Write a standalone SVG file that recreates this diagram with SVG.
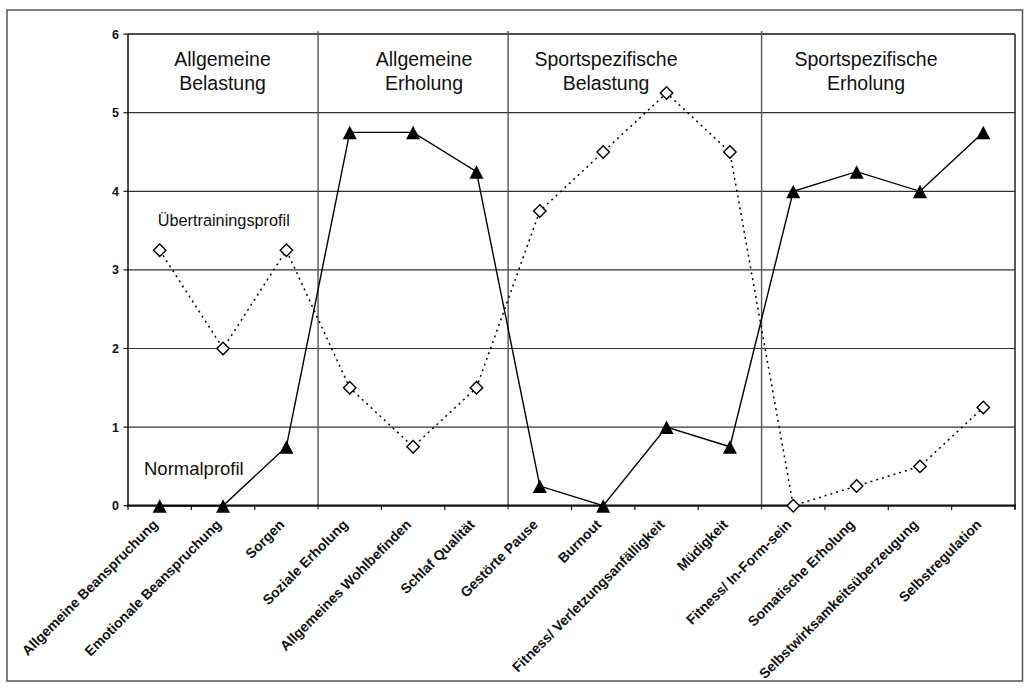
<svg xmlns="http://www.w3.org/2000/svg" width="1031" height="688" viewBox="0 0 1031 688">
<style>
.hdr{font-family:"Liberation Sans",Arial,sans-serif;font-size:19.5px;fill:#111;text-anchor:middle}
.ylab{font-family:"Liberation Sans",Arial,sans-serif;font-size:12.5px;font-weight:bold;fill:#111;text-anchor:end}
.xlab{font-family:"Liberation Sans",Arial,sans-serif;font-size:14px;font-weight:bold;fill:#111;text-anchor:end}
.note{font-family:"Liberation Sans",Arial,sans-serif;fill:#111}
.grid{stroke:#333;stroke-width:1.2}
.div{stroke:#555;stroke-width:1.4}
</style>
<defs>
<marker id="tri" viewBox="-8 -8 16 16" refX="0" refY="0" markerWidth="16" markerHeight="16" markerUnits="userSpaceOnUse" orient="0">
<path d="M0,-6.5 L7,7 L-7,7 Z" fill="#000" stroke="none"/>
</marker>
<marker id="dia" viewBox="-8 -8 16 16" refX="0" refY="0" markerWidth="16" markerHeight="16" markerUnits="userSpaceOnUse" orient="0">
<path d="M0,-6.2 L6.2,0 L0,6.2 L-6.2,0 Z" fill="#fff" stroke="#000" stroke-width="1.4" stroke-dasharray="none"/>
</marker>
</defs>
<rect x="0" y="0" width="1031" height="688" fill="#fff"/>
<rect x="7" y="10" width="1015.5" height="671" fill="none" stroke="#555" stroke-width="1.5"/>

<g id="grid">
<line class="grid" x1="128" y1="112.7" x2="1015" y2="112.7"/>
<line class="grid" x1="128" y1="191.3" x2="1015" y2="191.3"/>
<line class="grid" x1="128" y1="269.9" x2="1015" y2="269.9"/>
<line class="grid" x1="128" y1="348.5" x2="1015" y2="348.5"/>
<line class="grid" x1="128" y1="427.1" x2="1015" y2="427.1"/>
<line x1="128" y1="34.1" x2="1015" y2="34.1" stroke="#111" stroke-width="1.5"/>
<line x1="1015" y1="34.1" x2="1015" y2="509.5" stroke="#222" stroke-width="1.5"/>
<line class="div" x1="318.07" y1="31" x2="318.07" y2="509.5"/>
<line class="div" x1="508.14" y1="31" x2="508.14" y2="509.5"/>
<line class="div" x1="761.57" y1="31" x2="761.57" y2="509.5"/>
</g>

<g id="axes">
<line x1="128" y1="34.1" x2="128" y2="505.7" stroke="#111" stroke-width="1.5"/>
<line x1="127" y1="505.7" x2="1016" y2="505.7" stroke="#111" stroke-width="2.2"/>
<g stroke="#111" stroke-width="1.2">
<line x1="123.5" y1="34.1" x2="128" y2="34.1"/>
<line x1="123.5" y1="112.7" x2="128" y2="112.7"/>
<line x1="123.5" y1="191.3" x2="128" y2="191.3"/>
<line x1="123.5" y1="269.9" x2="128" y2="269.9"/>
<line x1="123.5" y1="348.5" x2="128" y2="348.5"/>
<line x1="123.5" y1="427.1" x2="128" y2="427.1"/>
<line x1="123.5" y1="505.7" x2="128" y2="505.7"/>
<line x1="128" y1="505.7" x2="128" y2="510"/>
<line x1="191.36" y1="505.7" x2="191.36" y2="510"/>
<line x1="254.71" y1="505.7" x2="254.71" y2="510"/>
<line x1="381.43" y1="505.7" x2="381.43" y2="510"/>
<line x1="444.79" y1="505.7" x2="444.79" y2="510"/>
<line x1="571.5" y1="505.7" x2="571.5" y2="510"/>
<line x1="634.86" y1="505.7" x2="634.86" y2="510"/>
<line x1="698.21" y1="505.7" x2="698.21" y2="510"/>
<line x1="824.93" y1="505.7" x2="824.93" y2="510"/>
<line x1="888.29" y1="505.7" x2="888.29" y2="510"/>
<line x1="951.64" y1="505.7" x2="951.64" y2="510"/>
<line x1="1015" y1="505.7" x2="1015" y2="510"/>
</g>
<text class="ylab" x="119" y="38.6">6</text>
<text class="ylab" x="119" y="117.2">5</text>
<text class="ylab" x="119" y="195.8">4</text>
<text class="ylab" x="119" y="274.4">3</text>
<text class="ylab" x="119" y="353">2</text>
<text class="ylab" x="119" y="431.6">1</text>
<text class="ylab" x="119" y="510.2">0</text>
</g>

<g id="x-labels">
<text class="xlab" transform="translate(158.7,525.5) rotate(-45)">Allgemeine Beanspruchung</text>
<text class="xlab" transform="translate(222,525.5) rotate(-45)">Emotionale Beanspruchung</text>
<text class="xlab" transform="translate(285.4,525.5) rotate(-45)">Sorgen</text>
<text class="xlab" transform="translate(348.7,525.5) rotate(-45)">Soziale Erholung</text>
<text class="xlab" transform="translate(412.1,525.5) rotate(-45)">Allgemeines Wohlbefinden</text>
<text class="xlab" transform="translate(475.5,525.5) rotate(-45)">Schlaf Qualität</text>
<text class="xlab" transform="translate(538.8,525.5) rotate(-45)">Gestörte Pause</text>
<text class="xlab" transform="translate(602.2,525.5) rotate(-45)">Burnout</text>
<text class="xlab" transform="translate(665.5,525.5) rotate(-45)">Fitness/ Verletzungsanfälligkeit</text>
<text class="xlab" transform="translate(728.9,525.5) rotate(-45)">Müdigkeit</text>
<text class="xlab" transform="translate(792.2,525.5) rotate(-45)">Fitness/ In-Form-sein</text>
<text class="xlab" transform="translate(855.6,525.5) rotate(-45)">Somatische Erholung</text>
<text class="xlab" transform="translate(919,525.5) rotate(-45)">Selbstwirksamkeitsüberzeugung</text>
<text class="xlab" transform="translate(982.3,525.5) rotate(-45)">Selbstregulation</text>
</g>

<g id="headers">
<text class="hdr" x="222.5" y="66">Allgemeine</text>
<text class="hdr" x="222.5" y="89.5">Belastung</text>
<text class="hdr" x="424" y="66">Allgemeine</text>
<text class="hdr" x="424" y="89.5">Erholung</text>
<text class="hdr" x="606" y="66">Sportspezifische</text>
<text class="hdr" x="606" y="89.5">Belastung</text>
<text class="hdr" x="866" y="66">Sportspezifische</text>
<text class="hdr" x="866" y="89.5">Erholung</text>
</g>

<g id="connectors">
<polyline id="uebertraining-line" fill="none" stroke="#000" stroke-width="1.5" stroke-dasharray="2,4" marker-start="url(#dia)" marker-mid="url(#dia)" marker-end="url(#dia)"
 points="159.68,250.25 223.04,348.5 286.39,250.25 349.75,387.8 413.11,446.75 476.46,387.8 539.82,210.95 603.18,152 666.54,93.05 729.89,152 793.25,505.7 856.61,486.05 919.96,466.4 983.32,407.45"/>
<polyline id="normal-line" fill="none" stroke="#000" stroke-width="1.4" marker-start="url(#tri)" marker-mid="url(#tri)" marker-end="url(#tri)"
 points="159.68,505.7 223.04,505.7 286.39,446.75 349.75,132.35 413.11,132.35 476.46,171.65 539.82,486.05 603.18,505.7 666.54,427.1 729.89,446.75 793.25,191.3 856.61,171.65 919.96,191.3 983.32,132.35"/>
</g>

<g id="legend">
<text class="note" x="157.7" y="226" font-size="16.3">Übertrainingsprofil</text>
<text class="note" x="144" y="475" font-size="18.5">Normalprofil</text>
</g>
</svg>
